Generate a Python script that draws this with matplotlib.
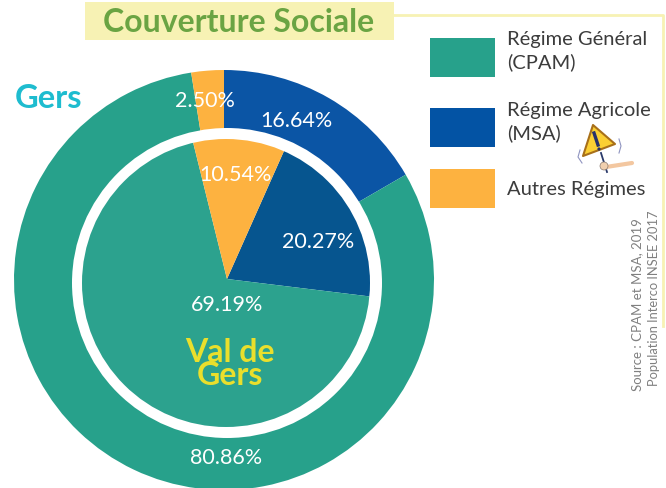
import matplotlib
matplotlib.use("Agg")
import matplotlib.pyplot as plt
from matplotlib.patches import Rectangle, Polygon, Circle

plt.rcParams['font.family'] = ['Lato', 'DejaVu Sans']

# data
gers_values = [16.64, 80.86, 2.50]
val_values = [20.27, 69.19, 10.54]
gers_labels = ["16.64%", "80.86%", "2.50%"]
val_labels = ["20.27%", "69.19%", "10.54%"]
legend_labels = ["Régime Général\n(CPAM)", "Régime Agricole\n(MSA)", "Autres Régimes"]

green = "#27a18b"
green2 = "#2ca28e"
blue = "#0b55a5"
blue2 = "#06558f"
orange = "#fdb240"
pale = "#f7f2b4"
grey = "#3c3c3c"

W, H = 666, 488


def Y(py):
    return H - py


fig = plt.figure(figsize=(W / 100, H / 100), dpi=100)
ax = fig.add_axes([0, 0, 1, 1])

# outer pie, clockwise from the top
ax.pie(gers_values, colors=[blue, green, orange], startangle=90, counterclock=False,
       center=(224, Y(280)), radius=210, frame=True, wedgeprops=dict(linewidth=0))
# white disc makes the ring
ax.add_patch(Circle((227, Y(283)), 155, color="white", lw=0, zorder=2))

# inner pie, the tip is a bit above the centre of the disc so clip it
wedges, _ = ax.pie(val_values, colors=[blue2, green2, orange], startangle=90 - 24, counterclock=False,
                   center=(227, Y(279)), radius=152, frame=True, wedgeprops=dict(linewidth=0))

ax.set_xlim(0, W)
ax.set_ylim(0, H)
ax.set_aspect("auto")
ax.axis("off")

# pie turns clipping off, so switch it on again
clip = Circle((226, Y(283)), 144, transform=ax.transData)
for w in wedges:
    w.set_zorder(3)
    w.set_clip_on(True)
    w.set_clip_path(clip)

# value labels
for txt, x, y in zip(gers_labels, [296, 226, 205], [121, 458, 101]):
    ax.text(x, Y(y), txt, color="white", fontsize=15.5, ha="center", va="center", zorder=5)
for txt, x, y in zip(val_labels, [318, 227, 235], [242, 305, 175]):
    ax.text(x, Y(y), txt, color="white", fontsize=15.5, ha="center", va="center", zorder=5)

ax.text(49, Y(98), "Gers", color="#1ebccf", fontsize=23.5, fontweight="bold", ha="center", va="center")
ax.text(230, Y(364), "Val de\nGers", color="#eadf2c", fontsize=23, fontweight="bold", ha="center", va="center",
        linespacing=0.75, zorder=5)

# title box and frame lines
ax.add_patch(Rectangle((85, Y(40)), 309, 38, color=pale, lw=0))
ax.plot([394, 663, 663], [Y(14.5), Y(14.5), Y(326)], color=pale, lw=2)
ax.text(239, Y(22), "Couverture Sociale", color="#6aa443", fontsize=23, fontweight="bold",
        ha="center", va="center")

# legend
for color, top, txt, ty in zip([green, "#0353a4", orange], [38, 108, 169], legend_labels, [51, 122, 189]):
    ax.add_patch(Rectangle((430, Y(top + 39)), 65, 39, color=color, lw=0))
    ax.text(507, Y(ty), txt, color=grey, fontsize=14.5, ha="left", va="center", linespacing=1.35)

# source
ax.text(637, Y(391), "Source : CPAM et MSA, 2019", color="#808080", fontsize=9.5, rotation=90,
        ha="center", va="bottom")
ax.text(654, Y(386), "Population Interco INSEE 2017", color="#808080", fontsize=9.3, rotation=90,
        ha="center", va="bottom")

# warning sign
ax.plot([601, 607], [Y(153), Y(172)], color="#2a3a6a", lw=1.3, zorder=6)
ax.plot([606, 632], [Y(167), Y(163)], color="#f3c7a0", lw=3, solid_capstyle="round", zorder=6)
ax.add_patch(Circle((604, Y(166)), 4, color="#f0cfae", ec="#8a7a70", lw=0.5, zorder=7))
ax.add_patch(Polygon([(593, Y(125)), (583, Y(156)), (615, Y(144))], closed=True, fc="#fbcf33", ec="#a8701a",
                     lw=1.5, joinstyle="round", zorder=6))
ax.plot([594, 598], [Y(133), Y(145)], color="#27306a", lw=2.4, zorder=7)
ax.add_patch(Circle((599, Y(149)), 1.6, color="#27306a", lw=0, zorder=7))
# shaking marks
ax.plot([580, 578, 582], [Y(150), Y(157), Y(163)], color="#8f94c0", lw=0.8)
ax.plot([619, 621, 619], [Y(139), Y(146), Y(153)], color="#8f94c0", lw=0.8)

fig.savefig("out.png", dpi=100)
